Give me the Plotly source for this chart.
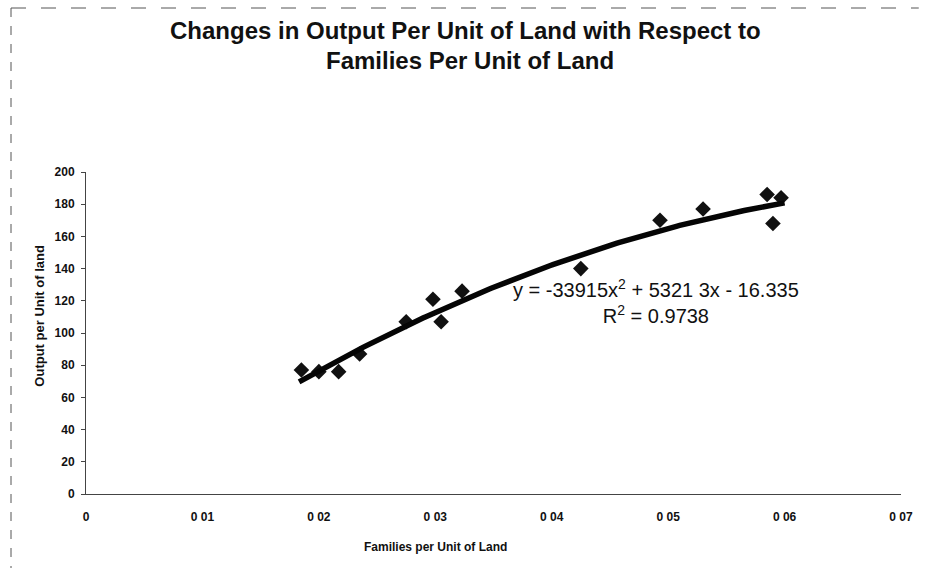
import numpy as np
import plotly.graph_objects as go

# Observed families per unit of land and output per unit of land
families = [0.0185, 0.0200, 0.0217, 0.0235, 0.0275, 0.0298, 0.0305, 0.0323,
            0.0425, 0.0493, 0.0530, 0.0585, 0.0590, 0.0597]
output = [77, 76, 76, 87, 107, 121, 107, 126, 140, 170, 177, 186, 168, 184]

# Quadratic trendline coefficients (y = a x^2 + b x + c)
coef_a, coef_b, coef_c = -33915, 5321.3, -16.335
r_squared = 0.9738

x_tick_vals = [0, 0.01, 0.02, 0.03, 0.04, 0.05, 0.06, 0.07]
x_tick_text = ["0", "0 01", "0 02", "0 03", "0 04", "0 05", "0 06", "0 07"]
y_tick_vals = list(range(0, 201, 20))

trend_x = np.linspace(min(families) - 0.0002, max(families) + 0.0003, 200)
trend_y = coef_a * trend_x ** 2 + coef_b * trend_x + coef_c

FONT = "Liberation Sans, Arial, sans-serif"
INK = "#111111"

# plot area in pixels: x 86..912, y 172..494
PLOT_L, PLOT_R, PLOT_T, PLOT_B = 86, 912, 172, 494


def px(x):
    return (x - PLOT_L) / (PLOT_R - PLOT_L)


def py(y):
    return (PLOT_B - y) / (PLOT_B - PLOT_T)


fig = go.Figure()
fig.add_trace(go.Scatter(
    x=families, y=output, mode="markers",
    marker=dict(symbol="diamond", size=12, color=INK),
    showlegend=False,
))
fig.add_trace(go.Scatter(
    x=trend_x, y=trend_y, mode="lines",
    line=dict(color="#050505", width=5.5),
    showlegend=False,
))

fig.update_layout(
    width=925, height=568,
    margin=dict(l=PLOT_L, r=925 - PLOT_R, t=PLOT_T, b=568 - PLOT_B),
    paper_bgcolor="white", plot_bgcolor="white",
    xaxis=dict(
        range=[0, 0.07], tickvals=x_tick_vals,
        ticktext=["<b>%s</b>" % t for t in x_tick_text],
        showgrid=False, zeroline=False, showline=True, linecolor="#444444",
        linewidth=1, ticks="", ticklabelstandoff=12,
        tickfont=dict(family=FONT, size=12, color=INK),
    ),
    yaxis=dict(
        range=[0, 200], tickvals=y_tick_vals,
        ticktext=["<b>%d</b>" % v for v in y_tick_vals],
        showgrid=False, zeroline=False, showline=True, linecolor="#444444",
        linewidth=1, ticks="outside", ticklen=4, tickcolor="#444444",
        ticklabelstandoff=4,
        tickfont=dict(family=FONT, size=12, color=INK),
    ),
    annotations=[
        dict(text="<b>Changes in Output Per Unit of Land with Respect to</b>",
             xref="paper", yref="paper", x=px(471), y=py(31),
             xanchor="center", yanchor="middle", showarrow=False,
             font=dict(family=FONT, size=24, color=INK)),
        dict(text="<b>Families Per Unit of Land</b>",
             xref="paper", yref="paper", x=px(475), y=py(60),
             xanchor="center", yanchor="middle", showarrow=False,
             font=dict(family=FONT, size=24, color=INK)),
        dict(text="<b>Families per Unit of Land</b>", xref="paper", yref="paper",
             x=px(440), y=py(547), xanchor="center", yanchor="middle",
             showarrow=False, font=dict(family=FONT, size=12, color=INK)),
        dict(text="<b>Output per Unit of land</b>", xref="paper", yref="paper",
             x=px(38), y=py(316), xanchor="center", yanchor="middle", textangle=-90,
             showarrow=False, font=dict(family=FONT, size=13, color=INK)),
        dict(text="y = -33915x<sup>2</sup> + 5321 3x - 16.335<br>R<sup>2</sup> = %.4f" % r_squared,
             xref="paper", yref="paper", x=px(664), y=py(301),
             xanchor="center", yanchor="middle", align="center",
             showarrow=False, font=dict(family=FONT, size=20, color=INK)),
    ],
    shapes=[
        dict(type="line", xref="paper", yref="paper",
             x0=px(10), x1=px(10), y0=py(575), y1=py(8),
             line=dict(color="#555555", width=1, dash="dash")),
        dict(type="line", xref="paper", yref="paper",
             x0=px(10), x1=px(930), y0=py(8), y1=py(8),
             line=dict(color="#555555", width=1, dash="longdash")),
    ],
)

fig.write_html("out.html")
